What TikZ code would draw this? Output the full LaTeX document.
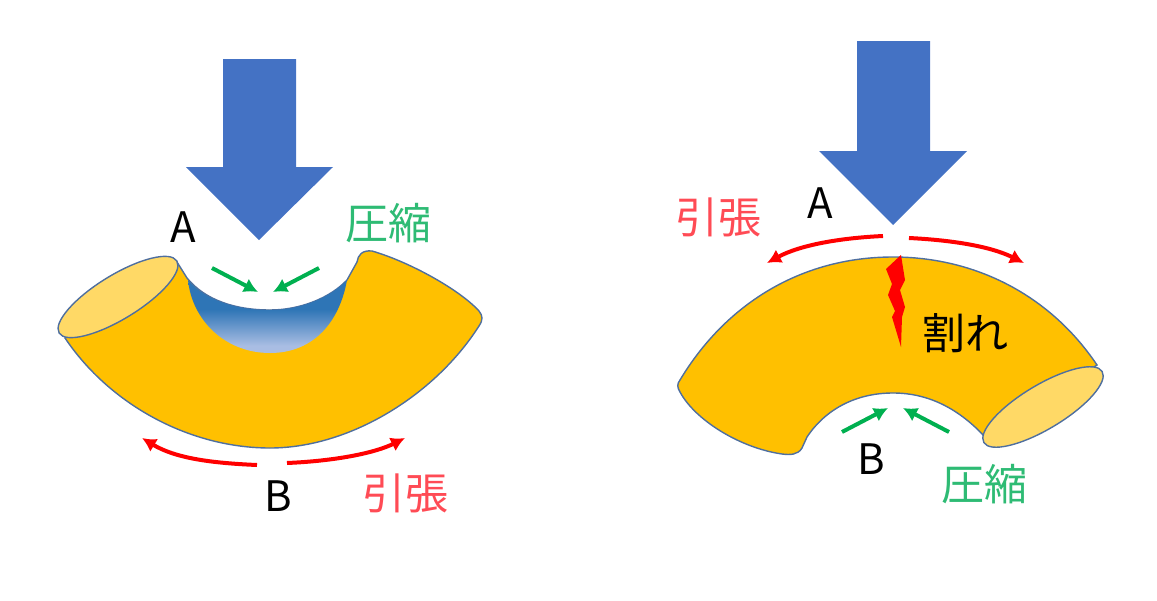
\documentclass[tikz,border=0pt]{standalone}
\usepackage{fontspec}
\usepackage{tikz}
\usetikzlibrary{arrows.meta}
\usetikzlibrary{shapes.geometric}
\setmainfont{Noto Sans CJK JP}
\definecolor{bodyfill}{HTML}{FFC000}
\definecolor{openfill}{HTML}{FFD966}
\definecolor{edgeblue}{HTML}{4F6F9F}
\definecolor{pressblue}{HTML}{4472C4}
\definecolor{notchdark}{HTML}{2E75B6}
\definecolor{notchlight}{HTML}{A9BDE3}
\definecolor{greenarrow}{HTML}{00B050}
\definecolor{greentext}{HTML}{2EBB74}
\definecolor{redtext}{HTML}{FF4B55}
\pgfdeclareverticalshading{notchshade}{100bp}{color(0bp)=(notchlight); color(30bp)=(notchlight); color(55bp)=(notchdark); color(100bp)=(notchdark)}
\begin{document}
\begin{tikzpicture}[x=1pt, y=-1pt,
    bodyline/.style={draw=edgeblue, line width=1.4pt, fill=bodyfill},
    openend/.style={ellipse, draw=edgeblue, line width=1.4pt, fill=openfill, minimum width=138pt, minimum height=44pt, inner sep=0pt},
    press/.style={fill=pressblue},
    pull/.style={draw=red, line width=4pt, -{Latex[length=14pt,width=15pt]}},
    squeeze/.style={draw=greenarrow, line width=4pt, -{Latex[length=14pt,width=15pt]}},
    letter/.style={font=\fontsize{42}{42}\selectfont, text=black, inner sep=0pt},
    word/.style={font=\fontsize{43}{43}\selectfont, inner sep=0pt}]
    \useasboundingbox (0,0) rectangle (1157,600);

    % left pipe
    \path[press] (223,59) -- (296,59) -- (296,167) -- (333,167) -- (259,240) -- (186,167) -- (223,167) -- cycle;
    \path[bodyline] (65,338) .. controls (110,405) and (190,448) .. (270,448)
        .. controls (350,448) and (435,395) .. (479,326)
        .. controls (483,320) and (483,316) .. (479,311)
        .. controls (460,290) and (410,262) .. (372,251)
        .. controls (362,250) and (358,255) .. (357,262)
        -- (347,280) .. controls (330,298) and (300,310) .. (270,310)
        .. controls (235,310) and (205,300) .. (187,278)
        -- (177,262) -- cycle;
    \path[shading=notchshade] (188,280) .. controls (205,300) and (235,310) .. (270,310)
        .. controls (300,310) and (330,298) .. (347,280)
        .. controls (340,320) and (315,353) .. (270,353)
        .. controls (225,353) and (192,320) .. (188,280) -- cycle;
    \node[openend, rotate=31.5] (leftopen) at (118,297) {};

    \coordinate (lsqa) at (212,268);
    \coordinate (lsqb) at (258,292);
    \coordinate (lsqc) at (319,268);
    \coordinate (lsqd) at (273,292);
    \draw[squeeze] (lsqa) -- (lsqb);
    \draw[squeeze] (lsqc) -- (lsqd);
    \coordinate (lpla) at (257,465);
    \coordinate (lplb) at (142,438);
    \coordinate (lplc) at (287,463);
    \coordinate (lpld) at (405,438);
    \draw[pull] (lpla) .. controls (210,463) and (175,458) .. (lplb);
    \draw[pull] (lplc) .. controls (335,461) and (375,453) .. (lpld);

    \node[letter] (lefta) at (183,227) {A};
    \node[letter] (leftb) at (278,496) {B};
    \node[word, text=greentext] (leftpress) at (388,223) {圧縮};
    \node[word, text=redtext] (leftpull) at (405,493) {引張};

    % right pipe
    \path[press] (857,41) -- (930,41) -- (930,151) -- (967,151) -- (893,225) -- (819,151) -- (857,151) -- cycle;
    \path[bodyline] (680,380) .. controls (725,305) and (800,257) .. (893,257)
        .. controls (975,257) and (1050,295) .. (1097,365)
        -- (985,437) .. controls (960,410) and (930,393) .. (893,393)
        .. controls (855,393) and (825,410) .. (807,437)
        -- (802,448) .. controls (798,455) and (790,455) .. (782,454)
        .. controls (740,448) and (695,420) .. (680,392)
        .. controls (677,387) and (677,384) .. (680,380) -- cycle;
    \node[openend, rotate=31] (rightopen) at (1043,407) {};
    \path[fill=red] (901,255) -- (886,269) -- (892,284) -- (888,295) -- (895,311) -- (892,317) -- (901,347) -- (902,317) -- (905,307) -- (900,290) -- (905,280) -- cycle;

    \coordinate (rsqa) at (842,432);
    \coordinate (rsqb) at (888,408);
    \coordinate (rsqc) at (949,432);
    \coordinate (rsqd) at (903,408);
    \draw[squeeze] (rsqa) -- (rsqb);
    \draw[squeeze] (rsqc) -- (rsqd);
    \coordinate (rpla) at (883,236);
    \coordinate (rplb) at (767,263);
    \coordinate (rplc) at (909,238);
    \coordinate (rpld) at (1024,263);
    \draw[pull] (rpla) .. controls (840,238) and (800,245) .. (rplb);
    \draw[pull] (rplc) .. controls (950,240) and (990,246) .. (rpld);

    \node[letter] (righta) at (820,203) {A};
    \node[letter] (rightb) at (871,459) {B};
    \node[word, text=redtext] (rightpull) at (718,217) {引張};
    \node[word, text=greentext] (rightpress) at (984,484) {圧縮};
    \node[word, text=black] (crack) at (965,333) {割れ};
\end{tikzpicture}
\end{document}
